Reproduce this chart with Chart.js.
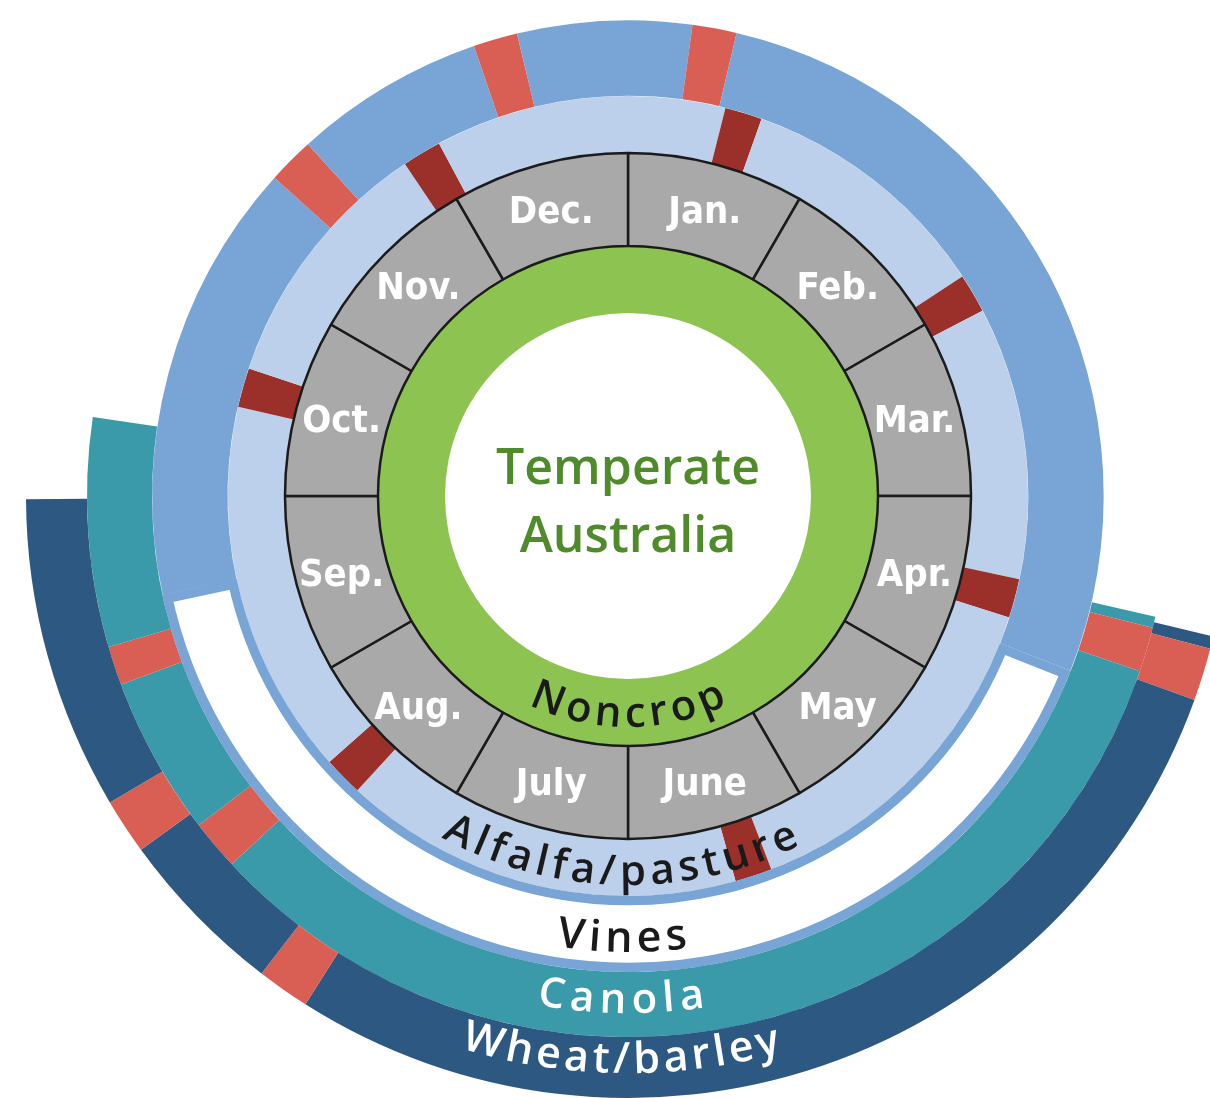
<!DOCTYPE html>
<html><head><meta charset="utf-8">
<script src="https://cdn.jsdelivr.net/npm/chart.js@4.4.1/dist/chart.umd.min.js"></script>
<style>
html,body{margin:0;padding:0;background:#fff;overflow:hidden;width:1210px;height:1098px;}
#wrap{position:absolute;left:-22px;top:-154px;width:1300px;height:1300px;}
</style></head><body>
<div id="wrap"><canvas id="c" width="1300" height="1300"></canvas></div>
<script>
// ---- data (positions on the year wheel, in months from 1 January; clockwise from top) ----
const months = ['Jan.','Feb.','Mar.','Apr.','May','June','July','Aug.','Sep.','Oct.','Nov.','Dec.'];
const centerTitle = ['Temperate','Australia'];
const ringNames = ['Wheat/barley','Canola','Vines','Alfalfa/pasture','Noncrop'];
const wheatActive   = [[3.45, 8.99]];
const wheatMarks    = [[3.49, 3.66], [7.08, 7.25], [7.80, 7.98]];
const canolaActive  = [[3.43, 9.28]];
const canolaMarks   = [[3.47, 3.63], [7.57, 7.75], [8.32, 8.46]];
const vinesDormant  = [[3.72, 8.60]];
const vinesMarks    = [[0.26, 0.44], [10.40, 10.59], [11.37, 11.55]];
const alfalfaMarks  = [[0.47, 0.65], [1.89, 2.08], [3.40, 3.59], [5.30, 5.48], [7.42, 7.61], [9.43, 9.62], [10.87, 11.06]];
const noncropYear   = [12];

const COL = {
  none: 'rgba(0,0,0,0)', wheat: '#2c5882', canola: '#3a9aaa', vines: '#78a4d6',
  dormant: '#ffffff', alfalfa: '#bcd0eb', mark: '#d95f55', dark: '#9b302a',
  month: '#a9a9a9', green: '#8dc350'
};

function buildRing(base, layers) {
  const pts = new Set([0, 12]);
  layers.forEach(l => l.iv.forEach(([a, b]) => { pts.add(a); pts.add(b); }));
  const s = [...pts].sort((a, b) => a - b);
  const data = [], types = [];
  for (let i = 0; i < s.length - 1; i++) {
    const mid = (s[i] + s[i + 1]) / 2;
    let t = base;
    layers.forEach(l => { if (l.iv.some(([a, b]) => mid > a && mid < b)) t = l.type; });
    const len = s[i + 1] - s[i];
    if (types.length && types[types.length - 1] === t) data[data.length - 1] += len;
    else { data.push(len); types.push(t); }
  }
  return { data, types };
}

const wheat = buildRing('none', [{ iv: wheatActive, type: 'wheat' }, { iv: wheatMarks, type: 'mark' }]);
const canola = buildRing('none', [{ iv: canolaActive, type: 'canola' }, { iv: canolaMarks, type: 'mark' }]);
const vines = buildRing('vines', [{ iv: vinesDormant, type: 'dormant' }, { iv: vinesMarks, type: 'mark' }]);
const alfalfa = buildRing('alfalfa', [{ iv: alfalfaMarks, type: 'dark' }]);

function ds(ring, weight, extra) {
  return Object.assign({
    data: ring.data, weight,
    backgroundColor: ring.types.map(t => COL[t]),
    borderWidth: 0
  }, extra || {});
}

const datasets = [
  ds(wheat, 61),
  ds(canola, 65),
  ds(vines, 76, {
    borderWidth: vines.types.map(t => t === 'dormant' ? 9 : 0),
    borderColor: COL.vines, borderAlign: 'inner'
  }),
  ds(alfalfa, 57),
  { data: months.map(() => 1), weight: 93, backgroundColor: COL.month,
    borderColor: '#1b1b1b', borderWidth: 2.5, borderAlign: 'center', order: -1 },
  { data: noncropYear, weight: 67, backgroundColor: COL.green, borderWidth: 0 }
];

function arcText(ctx, text, cx, cy, r, center, font, color, spacing) {
  ctx.save();
  ctx.font = font; ctx.fillStyle = color;
  ctx.textAlign = 'center'; ctx.textBaseline = 'alphabetic';
  const chars = [...text];
  const w = chars.map(ch => ctx.measureText(ch).width);
  const total = w.reduce((a, b) => a + b, 0) + spacing * (chars.length - 1);
  let th = center + total / 2 / r;
  chars.forEach((ch, i) => {
    const tc = th - (w[i] / 2) / r;
    ctx.save();
    ctx.translate(cx + r * Math.cos(tc), cy + r * Math.sin(tc));
    ctx.rotate(tc - Math.PI / 2);
    ctx.fillText(ch, 0, 0);
    ctx.restore();
    th -= (w[i] + spacing) / r;
  });
  ctx.restore();
}

const labelPlugin = {
  id: 'wheelLabels',
  afterDatasetsDraw(chart) {
    const ctx = chart.ctx;
    const mArc = chart.getDatasetMeta(4).data[0];
    const cx = mArc.x, cy = mArc.y;
    // month labels
    const rm = (mArc.innerRadius + mArc.outerRadius) / 2;
    ctx.save();
    ctx.fillStyle = '#ffffff';
    ctx.font = "bold 38px 'Liberation Sans Narrow', 'DejaVu Sans Condensed', sans-serif";
    ctx.textAlign = 'center'; ctx.textBaseline = 'alphabetic';
    months.forEach((m, i) => {
      const a = -Math.PI / 2 + (i + 0.5) * Math.PI / 6;
      ctx.fillText(m, cx + rm * Math.cos(a), cy + rm * Math.sin(a) + 13);
    });
    // center title
    ctx.fillStyle = '#4f8a2b';
    ctx.font = "600 50px 'Open Sans', sans-serif";
    ctx.fillText(centerTitle[0], cx, cy - 12);
    ctx.fillText(centerTitle[1], cx, cy + 56);
    ctx.restore();
    // curved ring names along the bottom
    const f = s => `600 ${s}px 'Open Sans', sans-serif`;
    const B = Math.PI / 2;
    arcText(ctx, ringNames[4], cx, cy, 231, B, f(42), '#1a1a1a', 5);
    arcText(ctx, ringNames[3], cx, cy, 389, B + 8 / 389, f(42), '#1a1a1a', 5);
    arcText(ctx, ringNames[2], cx, cy, 456, B + 6 / 456, f(43), '#1a1a1a', 5);
    arcText(ctx, ringNames[1], cx, cy, 517, B + 7 / 517, f(42), '#ffffff', 6);
    arcText(ctx, ringNames[0], cx, cy, 577, B + 7 / 577, f(43), '#ffffff', 4);
  }
};

new Chart(document.getElementById('c'), {
  type: 'doughnut',
  data: { labels: months, datasets },
  options: {
    responsive: false,
    animation: false,
    events: [],
    cutout: 183,
    layout: { padding: 48 },
    plugins: { legend: { display: false }, tooltip: { enabled: false } }
  },
  plugins: [labelPlugin]
});
</script>
</body></html>
